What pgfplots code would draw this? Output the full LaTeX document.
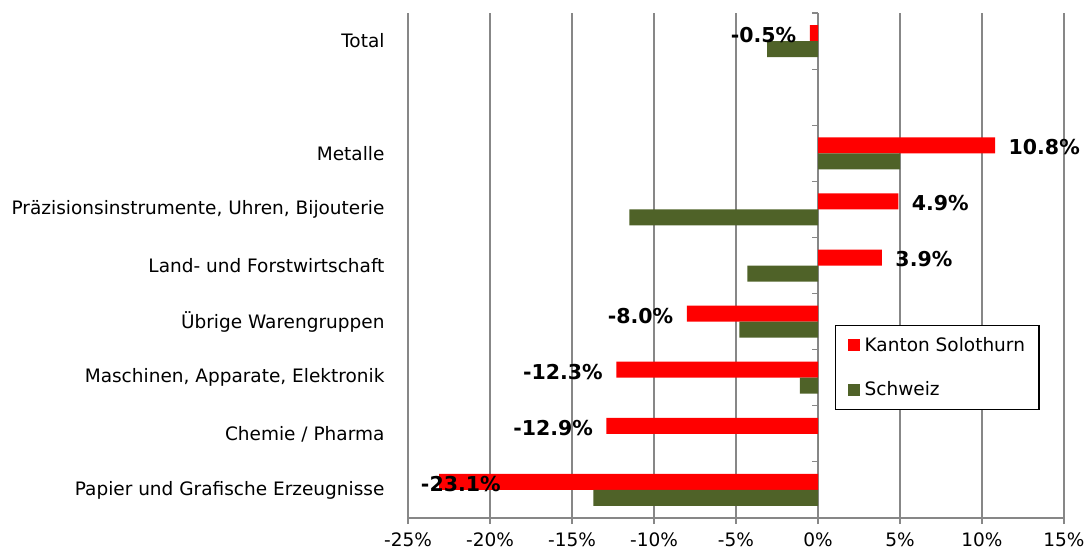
\documentclass[border=0pt]{standalone}
\usepackage{fontspec}
\setmainfont{DejaVu Sans}
\usepackage{pgfplots}
\usepackage{pgfplotstable}
\pgfplotsset{compat=1.18}
\definecolor{kred}{HTML}{FF0000}
\definecolor{chgreen}{HTML}{4F6228}
\definecolor{gridgray}{HTML}{878787}

% y: 0 = Papier ... 8 = Total (7 = leere Zeile)
\pgfplotstableread{
y x sh
8 -0.5 -10
6 10.8 10
5 4.9 10
4 3.9 10
3 -8.0 -10
2 -12.3 -10
1 -12.9 -10
0 -23.1 65
}\soloth

\pgfplotstableread{
y x
8 -3.1
6 5.0
5 -11.5
4 -4.3
3 -4.8
2 -1.1
1 0
0 -13.7
}\schweiz

\begin{document}
\begin{tikzpicture}
\begin{axis}[
    scale only axis, width=656pt, height=505pt,
    xbar, bar width=16pt,
    xmin=-25, xmax=15, ymin=-0.5, ymax=8.5,
    xtick={-25,-20,...,15},
    xticklabels={-25\%,-20\%,-15\%,-10\%,-5\%,0\%,5\%,10\%,15\%},
    ytick={0,...,8},
    yticklabels={Papier und Grafische Erzeugnisse, Chemie / Pharma,
        {Maschinen, Apparate, Elektronik}, Übrige Warengruppen,
        Land- und Forstwirtschaft, {Präzisionsinstrumente, Uhren, Bijouterie},
        Metalle, {}, Total},
    axis x line*=bottom, axis y line*=left,
    y axis line style={draw=none}, ytick style={draw=none},
    x axis line style={gridgray, line width=1.2pt},
    xtick style={gridgray, line width=1.2pt},
    tick align=outside, major tick length=6pt,
    xmajorgrids, grid style={gridgray, line width=1.2pt},
    tick label style={font=\fontsize{18.5}{20}\selectfont},
    yticklabel style={xshift=-14pt},
    xticklabel style={yshift=-5pt},
    legend style={at={(0.651,0.214)}, anchor=south west, draw=black,
        line width=1.2pt, font=\fontsize{18.5}{20}\selectfont,
        inner xsep=12pt, inner ysep=10pt, row sep=25pt,
        nodes={inner sep=2pt}},
    legend cell align=left,
    legend image code/.code={\fill[#1] (0pt,-6pt) rectangle (12pt,6pt); \path (15pt,0pt);},
    clip=false,
]
\addplot[fill=kred, draw=none, bar shift=8pt,
    visualization depends on={\thisrow{sh}\as\sh},
    nodes near coords={\pgfmathprintnumber[fixed,fixed zerofill,precision=1,assume math mode=true]{\pgfplotspointmeta}\%},
    every node near coord/.append style={font=\bfseries\fontsize{20.5}{22}\selectfont, text=black, xshift=\sh pt, yshift=-2pt}]
    table[x=x,y=y] {\soloth};
\addlegendentry{Kanton Solothurn}
\addplot[fill=chgreen, draw=none, bar shift=-8pt] table[x=x,y=y] {\schweiz};
\addlegendentry{Schweiz}
\pgfplotsinvokeforeach{-0.5,0.5,...,8.5}{
    \draw[gridgray, line width=1.2pt] (axis cs:0,#1) -- ++(-6pt,0pt);
}
\coordinate (o) at (rel axis cs:0,0);
\end{axis}
\path (o) ++(-408pt,-37pt) rectangle ++(1089pt,555pt);
\end{tikzpicture}
\end{document}
